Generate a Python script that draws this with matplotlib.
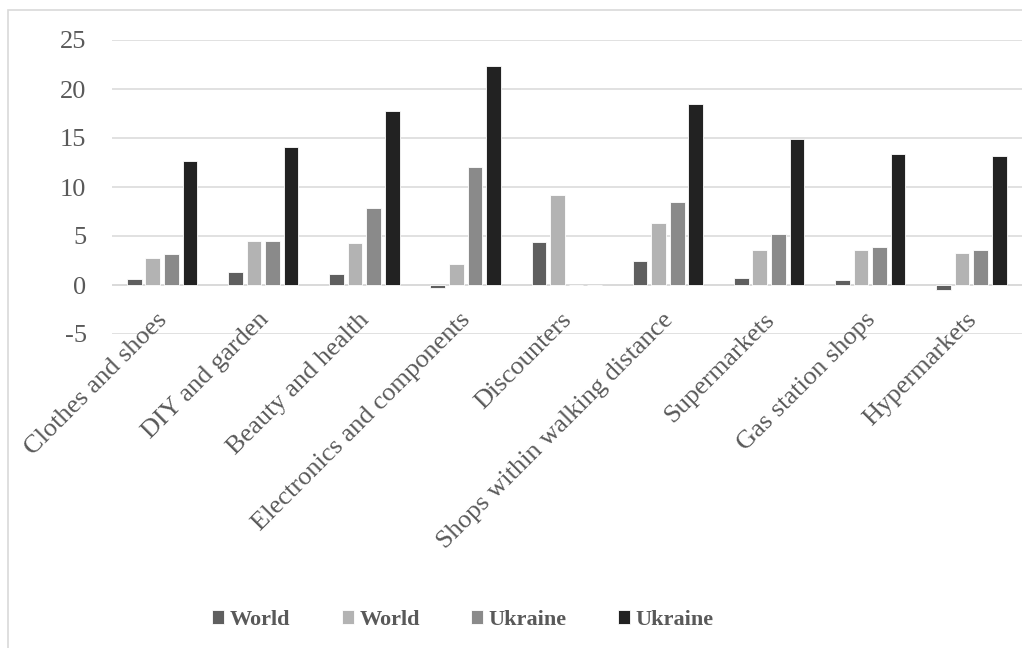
import numpy as np
import matplotlib.pyplot as plt
from matplotlib.patches import Rectangle

categories = ["Clothes and shoes", "DIY and garden", "Beauty and health",
              "Electronics and components", "Discounters",
              "Shops within walking distance", "Supermarkets",
              "Gas station shops", "Hypermarkets"]
series_names = ["World", "World", "Ukraine", "Ukraine"]
world_1 = [0.6, 1.3, 1.1, -0.3, 4.4, 2.4, 0.7, 0.5, -0.5]
world_2 = [2.8, 4.5, 4.3, 2.1, 9.2, 6.3, 3.6, 3.6, 3.3]
ukraine_1 = [3.2, 4.5, 7.9, 12.0, 0.0, 8.5, 5.2, 3.9, 3.6]
ukraine_2 = [12.7, 14.1, 17.8, 22.3, 0.0, 18.5, 14.9, 13.4, 13.2]
colors = ["#5f5f5f", "#b3b3b3", "#8a8a8a", "#222222"]
yticks = [-5, 0, 5, 10, 15, 20, 25]

plt.rcParams['font.family'] = ['Liberation Serif', 'DejaVu Serif']

fig = plt.figure(figsize=(10.22, 6.48), dpi=100)
ax = fig.add_axes([111.5 / 1022, 1 - 334 / 648, (1022 - 111.5) / 1022, 294 / 648])

x = np.arange(len(categories))
step = 0.183
width = 0.145
for k, vals in enumerate([world_1, world_2, ukraine_1, ukraine_2]):
    ax.bar(x + (k - 1.5) * step, vals, width, color=colors[k],
           edgecolor="white", linewidth=0.6, label=series_names[k], zorder=3)

ax.set_xlim(-0.5, len(categories) - 0.5)
ax.set_ylim(-5, 25)
ax.set_yticks(yticks)
ax.set_yticklabels([str(t) for t in yticks])
ax.yaxis.grid(True, color="#d9d9d9", linewidth=1.1, zorder=0)
ax.axhline(0, color="#d9d9d9", linewidth=1.1, zorder=2)
ax.tick_params(axis="y", length=0, pad=18, labelsize=19, labelcolor="#595959")
ax.set_xticks([])
for s in ax.spines.values():
    s.set_visible(False)

# category labels hang from the zero line, not from the axis bottom
for i, name in enumerate(categories):
    ax.text(i - 0.06, -2.4, name, rotation=45, rotation_mode="anchor",
            ha="right", va="top", fontsize=19, color="#595959", zorder=4)

leg = fig.legend(loc="center", bbox_to_anchor=(0.453, 1 - 620 / 648), ncol=4,
                 frameon=False, handlelength=0.55, handleheight=0.55,
                 handletextpad=0.25, columnspacing=2.3,
                 prop={"size": 16, "weight": "bold"})
for t in leg.get_texts():
    t.set_color("#595959")

# outer chart frame (left and top edges visible)
fig.patches.append(Rectangle((8 / 1022, -0.1), 1.2, 1.1 - 10 / 648,
                             transform=fig.transFigure, fill=False,
                             edgecolor="#d9d9d9", linewidth=1.2))

fig.savefig("out.png", dpi=100)
